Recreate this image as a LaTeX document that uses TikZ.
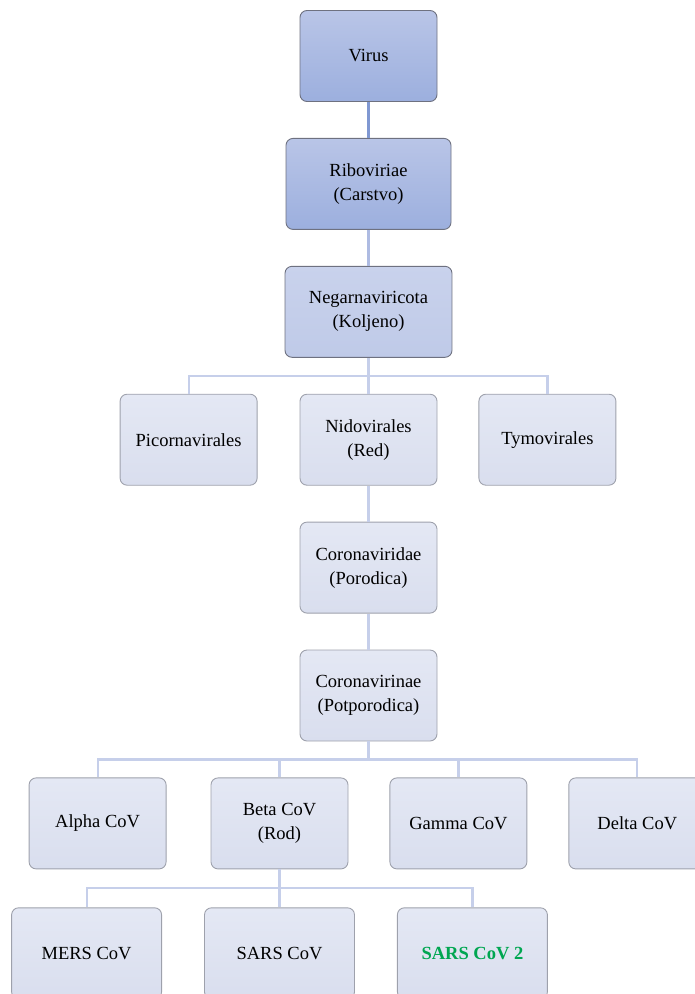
\documentclass[tikz,border=0pt]{standalone}
\usepackage{fontspec}
\setmainfont{Liberation Serif}
\usetikzlibrary{positioning}
\definecolor{deeptop}{HTML}{B9C5E7}
\definecolor{deepbot}{HTML}{9CAFDE}
\definecolor{midtop}{HTML}{C9D2EC}
\definecolor{midbot}{HTML}{BFCAE8}
\definecolor{paletop}{HTML}{E4E8F4}
\definecolor{palebot}{HTML}{D9DEEE}
\definecolor{darkrim}{HTML}{6E7180}
\definecolor{lightrim}{HTML}{9EA1AC}
\definecolor{linkdeep}{HTML}{8098D2}
\definecolor{linkmid}{HTML}{AEBBE2}
\definecolor{linkpale}{HTML}{C6CFEA}
\definecolor{covgreen}{HTML}{00A651}
\tikzstyle{taxon} = [rectangle,
                     rounded corners=7pt,
                     minimum width=137pt,
                     minimum height=91pt,
                     text centered,
                     align=center,
                     top color=paletop,
                     bottom color=palebot,
                     draw=lightrim,
                     line width=0.9pt,
                     font=\fontsize{18.5}{24}\selectfont]
\tikzstyle{deep} = [taxon, top color=deeptop, bottom color=deepbot, draw=darkrim]
\tikzstyle{mid} = [taxon, top color=midtop, bottom color=midbot, draw=darkrim]
\tikzstyle{link} = [line width=2.2pt, draw=linkpale]

\begin{document}
\begin{tikzpicture}[node distance=36pt]
\useasboundingbox (0,0) rectangle (694pt,-994pt);
\node (virus) [deep] at (368.5pt,-56pt) {Virus};
\node (ribo) [deep, minimum width=165pt, below= of virus] {Riboviriae\\(Carstvo)};
\node (negar) [mid, minimum width=167pt, below= of ribo] {Negarnaviricota\\(Koljeno)};
\node (nido) [taxon, below= of negar] {Nidovirales\\(Red)};
\node (pico) [taxon, left=42pt of nido] {Picornavirales};
\node (tymo) [taxon, right=41pt of nido] {Tymovirales};
\node (cvfam) [taxon, below= of nido] {Coronaviridae\\(Porodica)};
\node (cvsub) [taxon, below= of cvfam] {Coronavirinae\\(Potporodica)};
\node (beta) [taxon, below= of cvsub, xshift=-89pt] {Beta CoV\\(Rod)};
\node (alpha) [taxon, left=44pt of beta] {Alpha CoV};
\node (gamma) [taxon, right=41pt of beta] {Gamma CoV};
\node (delta) [taxon, right=41pt of gamma] {Delta CoV};
\node (sars) [taxon, minimum width=150pt, below=38pt of beta] {SARS CoV};
\node (mers) [taxon, minimum width=150pt, left=42pt of sars] {MERS CoV};
\node (sars2) [taxon, minimum width=150pt, right=42pt of sars] {\textcolor{covgreen}{\textbf{SARS CoV 2}}};

\draw[link, draw=linkdeep] (virus) -- (ribo);
\draw[link, draw=linkmid] (ribo) -- (negar);
\draw[link] (negar) -- (nido);
\draw[link] (pico.north) -- ++(0,18pt) -| (tymo.north);
\draw[link] (nido) -- (cvfam);
\draw[link] (cvfam) -- (cvsub);
\draw[link] (cvsub.south) -- ++(0,-18pt);
\draw[link] (alpha.north) -- ++(0,18pt) -| (delta.north);
\draw[link] (beta.north) -- ++(0,18pt);
\draw[link] (gamma.north) -- ++(0,18pt);
\draw[link] (beta.south) -- ++(0,-19pt);
\draw[link] (mers.north) -- ++(0,19pt) -| (sars2.north);
\draw[link] (sars.north) -- ++(0,19pt);
\end{tikzpicture}
\end{document}
